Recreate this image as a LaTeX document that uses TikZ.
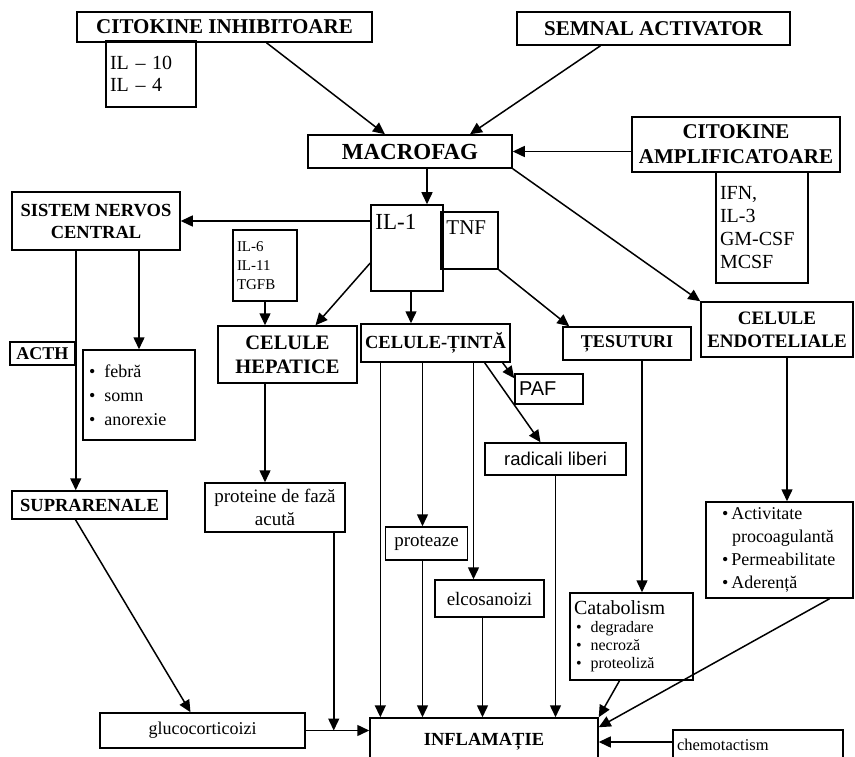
\documentclass[tikz,border=0pt]{standalone}
\usepackage{fontspec}
\setmainfont{Liberation Serif}
\setsansfont{Liberation Sans}
\usetikzlibrary{arrows.meta}

\newcommand{\fs}[2]{\fontsize{#1}{#2}\selectfont}
\newcommand{\bul}{\textbullet\hspace{9pt}}

\tikzset{
    box/.style={draw, line width=1.5pt, inner sep=4pt, align=center},
    hd/.style={box, font=\fs{19}{23}\bfseries},
    txt/.style={box, font=\fs{18}{22}},
    flow/.style={-{Triangle[length=12pt,width=11pt]}, line width=1.5pt}
}

\begin{document}
\begin{tikzpicture}[x=1pt,y=-1pt]
    \useasboundingbox (0,0) rectangle (855,757);
    \clip (0,0) rectangle (855,757);

    \node [hd, font=\fs{21}{25}\bfseries, minimum width=295pt, minimum height=30pt] (inhib) at (224.5,27) {CITOKINE INHIBITOARE};
    \node [txt, font=\fs{20}{22}, align=left, text width=82pt, minimum height=66pt] (inhibl) at (151,74) {IL -- 10\\IL -- 4};
    \node [hd, font=\fs{21}{25}\bfseries, minimum width=273pt, minimum height=33pt] (semnal) at (653.5,28.5) {SEMNAL ACTIVATOR};
    \node [hd, font=\fs{23}{26}\bfseries, minimum width=204pt, minimum height=33pt] (mac) at (410,151.5) {MACROFAG};
    \node [hd, font=\fs{21}{25}\bfseries, minimum width=208pt, minimum height=55pt] (ampl) at (736,144.5) {CITOKINE\\AMPLIFICATOARE};
    \node [txt, font=\fs{20}{23}, align=left, text width=84pt, minimum height=111pt] (ampll) at (762,227.5) {IFN,\\IL-3\\GM-CSF\\MCSF};

    \node [box, minimum width=72pt, minimum height=86pt,
        label={[font=\fs{23}{26}, anchor=north west, inner sep=0pt, xshift=5pt, yshift=-10pt]north west:IL-1}] (il1) at (407,248) {};
    \node [box, minimum width=57pt, minimum height=57pt,
        label={[font=\fs{21}{24}, anchor=north west, inner sep=0pt, xshift=6pt, yshift=-9pt]north west:TNF}] (tnf) at (469.5,240.5) {};

    \node [hd, font=\fs{18.5}{22}\bfseries, minimum width=168pt, minimum height=58pt] (snc) at (96,221) {SISTEM NERVOS\\CENTRAL};
    \node [txt, font=\fs{15}{19}, align=left, text width=56pt, minimum height=71pt] (hepin) at (265,265.5) {IL-6\\IL-11\\TGFB};
    \node [hd, font=\fs{20.5}{24}\bfseries, minimum width=139pt, minimum height=57pt] (hep) at (287.5,354.5) {CELULE\\HEPATICE};
    \node [hd, font=\fs{18.5}{21}\bfseries, minimum width=145pt, minimum height=38pt] (tinta) at (435.5,343) {CELULE-ȚINTĂ};
    \node [hd, font=\fs{18}{21}\bfseries, minimum width=128pt, minimum height=33pt] (tes) at (627,343.5) {ȚESUTURI};
    \node [hd, font=\fs{19}{23}\bfseries, minimum width=152pt, minimum height=55pt] (endo) at (777,329.5) {CELULE\\ENDOTELIALE};

    \node [txt, font=\sffamily\fs{20}{22}, align=left, text width=60pt, minimum height=30pt] (paf) at (549,389) {PAF};
    \node [txt, font=\sffamily\fs{18.5}{22}, minimum width=141pt, minimum height=32pt] (rad) at (555.5,459) {radicali liberi};

    \node [hd, font=\fs{18}{21}\bfseries, inner sep=2pt, minimum width=65pt, minimum height=23pt] (acth) at (42.5,353.5) {ACTH};
    \node [txt, font=\fs{18}{24}, align=left, text width=104pt, minimum height=90pt] (simpt) at (139,395) {\hspace*{2pt}\bul febră\\\hspace*{2pt}\bul somn\\\hspace*{2pt}\bul anorexie};
    \node [hd, font=\fs{18.5}{22}\bfseries, minimum width=155pt, minimum height=28pt] (supra) at (89.5,505) {SUPRARENALE};
    \node [txt, font=\fs{19}{23}, minimum width=140pt, minimum height=49pt] (prot) at (275,507.5) {proteine de fază\\acută};

    \node [txt, font=\fs{19}{22}, minimum width=82pt, minimum height=33pt] (protz) at (426.5,543.5) {proteaze};
    \node [txt, font=\fs{19}{22}, minimum width=109pt, minimum height=37pt] (elco) at (489.5,598.5) {elcosanoizi};
    \node [txt, font=\fs{16}{18}, align=left, text width=115pt, minimum height=87pt] (cata) at (631.5,636.5) {{\fs{20}{22}Catabolism}\\\hspace*{2pt}\bul degradare\\\hspace*{2pt}\bul necroză\\\hspace*{2pt}\bul proteoliză};
    \node [txt, font=\fs{18}{23}, align=left, text width=139pt, minimum height=96pt] (endoef) at (779.5,550) {\hspace*{12pt}\textbullet\,Activitate\\\hspace*{22pt}procoagulantă\\\hspace*{12pt}\textbullet\,Permeabilitate\\\hspace*{12pt}\textbullet\,Aderență};

    \node [txt, minimum width=205pt, minimum height=35pt] (gluco) at (202.5,730.5) {glucocorticoizi};
    \node [hd, font=\fs{18.5}{22}\bfseries, minimum width=228pt, minimum height=48pt] (infl) at (484,742) {INFLAMAȚIE};
    \node [txt, font=\fs{16.5}{20}, align=left, text width=162pt, minimum height=30pt] (chemo) at (758,745) {chemotactism};

    \draw [flow] ([xshift=42pt]inhib.south) -- ([xshift=-25pt]mac.north);
    \draw [flow] ([xshift=-53pt]semnal.south) -- ([xshift=60pt]mac.north);
    \draw [flow] (ampl.west |- mac.east) -- (mac.east);
    \draw [flow] ([xshift=20pt]il1.north |- mac.south) -- ([xshift=20pt]il1.north);
    \draw [flow] (mac.south east) -- (endo.north west);

    \draw [flow] (il1.west |- snc.east) -- (snc.east);
    \draw [flow] ([yshift=-15pt]il1.west) -- ([xshift=28pt]hep.north);
    \draw [flow] ([xshift=4pt]il1.south) -- ([xshift=4pt]il1.south |- tinta.north);
    \draw [flow] (tnf.south east) -- ([xshift=7pt]tes.north west);
    \draw [flow] (hepin.south) -- (hepin.south |- hep.north);

    \draw [flow] (acth.east |- snc.south) -- (acth.east |- supra.north);
    \draw [flow] (simpt.north |- snc.south) -- (simpt.north);
    \draw [flow] (hepin.south |- hep.south) -- (hepin.south |- prot.north);

    \draw [flow] ([xshift=20pt]tinta.south west) -- ([xshift=20pt]tinta.south west |- infl.north);
    \draw [flow] ([xshift=-4pt]protz.north |- tinta.south) -- ([xshift=-4pt]protz.north);
    \draw [flow] ([xshift=-4pt]protz.south) -- ([xshift=-4pt]protz.south |- infl.north);
    \draw [flow] ([xshift=-16pt]elco.north |- tinta.south) -- ([xshift=-16pt]elco.north);
    \draw [flow] ([xshift=-7pt]elco.south) -- ([xshift=-7pt]elco.south |- infl.north);
    \draw [flow] ([xshift=-8pt]tinta.south east) -- ([yshift=-5pt]paf.north west);
    \draw [flow] ([xshift=-26pt]tinta.south east) -- ([xshift=-15pt]rad.north);
    \draw [flow] (rad.south) -- (rad.south |- infl.north);

    \draw [flow] ([xshift=15pt]tes.south) -- ([xshift=15pt]tes.south |- cata.north);
    \draw [flow] ([xshift=-12pt]cata.south) -- (infl.north east);
    \draw [flow] ([xshift=10pt]endo.south) -- ([xshift=10pt]endo.south |- endoef.north);
    \draw [flow] ([xshift=50pt]endoef.south) -- ([yshift=-10pt]infl.north east);
    \draw [flow] (infl.east -| chemo.west) -- (infl.east);

    \draw [flow] ([xshift=-14pt]supra.south) -- ([xshift=-12pt]gluco.north);
    \draw [flow] (gluco.east) -- (gluco.east -| infl.west);
    \draw [flow] ([xshift=-12pt]prot.south east) -- ([xshift=-12pt]prot.south east |- gluco.east);

\end{tikzpicture}
\end{document}
